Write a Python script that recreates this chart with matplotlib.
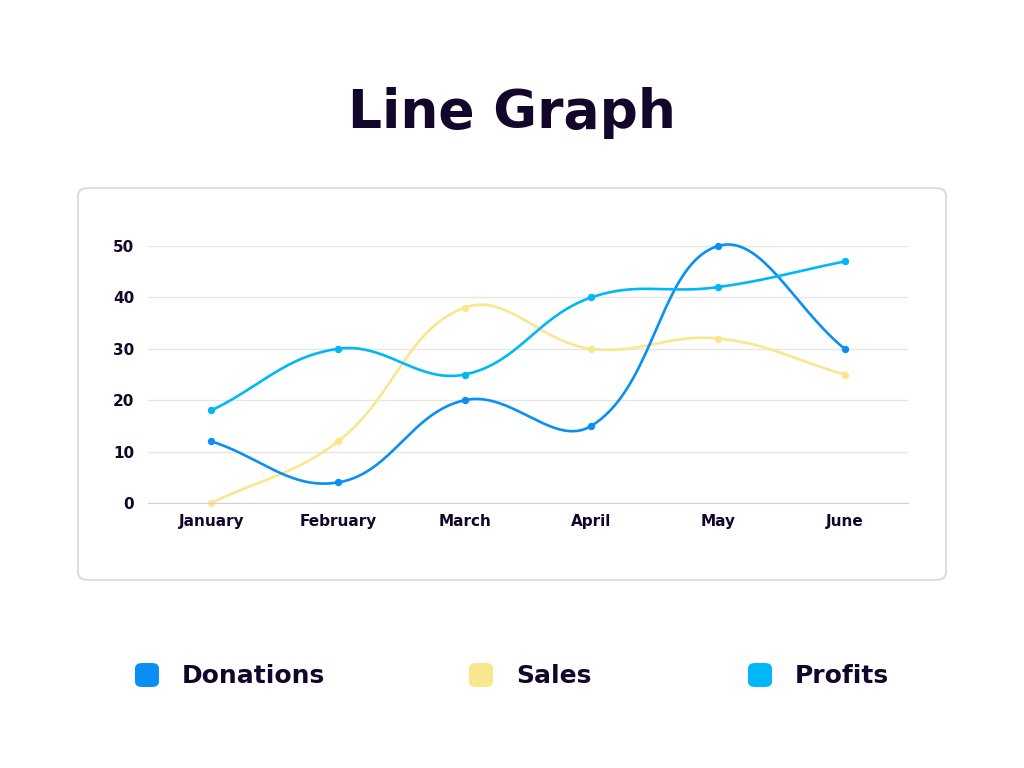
import numpy as np
import matplotlib.pyplot as plt
from matplotlib.patches import FancyBboxPatch

months = ['January', 'February', 'March', 'April', 'May', 'June']
donations = [12, 4, 20, 15, 50, 30]
sales = [0, 12, 38, 30, 32, 25]
profits = [18, 30, 25, 40, 42, 47]

series_names = ['Donations', 'Sales', 'Profits']
series_colors = ['#0a8ff5', '#f9e78e', '#00b8f5']
dark = '#12062b'


def smooth(xs, ys, sx, sy, tension=0.4, n=40):
    # chart.js style bezier spline, control points computed in pixel space
    px = np.asarray(xs, float) * sx
    py = np.asarray(ys, float) * sy
    pts = np.column_stack([px, py])
    m = len(pts)
    cp_in = pts.copy()
    cp_out = pts.copy()
    for i in range(m):
        prev = pts[max(i - 1, 0)]
        nxt = pts[min(i + 1, m - 1)]
        d01 = np.hypot(*(pts[i] - prev))
        d12 = np.hypot(*(nxt - pts[i]))
        tot = d01 + d12
        s01 = d01 / tot if tot else 0
        s12 = d12 / tot if tot else 0
        cp_in[i] = pts[i] - tension * s01 * (nxt - prev)
        cp_out[i] = pts[i] + tension * s12 * (nxt - prev)
    out = []
    t = np.linspace(0, 1, n)[:, None]
    for i in range(m - 1):
        p0, p1, p2, p3 = pts[i], cp_out[i], cp_in[i + 1], pts[i + 1]
        seg = (1 - t) ** 3 * p0 + 3 * (1 - t) ** 2 * t * p1 + 3 * (1 - t) * t ** 2 * p2 + t ** 3 * p3
        out.append(seg)
    out = np.vstack(out)
    return out[:, 0] / sx, out[:, 1] / sy


fig = plt.figure(figsize=(10.24, 7.68), dpi=100)

# outer rounded box (behind the axes)
box = FancyBboxPatch((78 / 1024, 1 - 580 / 768), 868 / 1024, 392 / 768,
                     boxstyle='round,pad=0,rounding_size=0.01',
                     transform=fig.transFigure, facecolor='white',
                     edgecolor='#dedede', linewidth=1.5, zorder=-5)
fig.patches.append(box)

fig.text(0.5, 1 - 113 / 768, 'Line Graph', ha='center', va='center',
         fontsize=38.5, fontweight='bold', color=dark)

ax = fig.add_axes([148 / 1024, 1 - 503 / 768, 760 / 1024, 257 / 768])
ax.set_xlim(-0.5, 5.5)
ax.set_ylim(0, 50)
x = np.arange(len(months))
# pixel scales so the spline matches the drawn aspect
sx = 126.8
sy = 257 / 50
for vals, col in zip([sales, donations, profits], [series_colors[1], series_colors[0], series_colors[2]]):
    cx, cy = smooth(x, vals, sx, sy)
    ax.plot(cx, cy, color=col, lw=1.9, solid_capstyle='round', clip_on=False)
    ax.plot(x, vals, 'o', color=col, ms=4.3, clip_on=False)

ax.set_yticks([0, 10, 20, 30, 40, 50])
ax.set_xticks(x)
ax.set_xticklabels(months)
ax.grid(axis='y', color='#e6e6e6', lw=1)
ax.set_axisbelow(True)
for s in ['top', 'right', 'left']:
    ax.spines[s].set_visible(False)
ax.spines['bottom'].set_color('#d0d0d0')
ax.tick_params(length=0, labelsize=11, colors=dark, pad=10)
ax.tick_params(axis='x', pad=8)
for lab in ax.get_xticklabels() + ax.get_yticklabels():
    lab.set_fontweight('bold')
ax.set_facecolor('none')

# legend along the bottom
leg_x = [147, 481, 760]
for name, col, lx in zip(series_names, series_colors, leg_x):
    sq = FancyBboxPatch(((lx - 12) / 1024, 1 - 687 / 768), 24 / 1024, 24 / 768,
                        boxstyle='round,pad=0,rounding_size=0.007',
                        transform=fig.transFigure, facecolor=col, edgecolor='none')
    fig.patches.append(sq)
    fig.text((lx + 35) / 1024, 1 - 676 / 768, name, ha='left', va='center',
             fontsize=18, fontweight='bold', color=dark)

fig.savefig('out.png', dpi=100, facecolor='white')
